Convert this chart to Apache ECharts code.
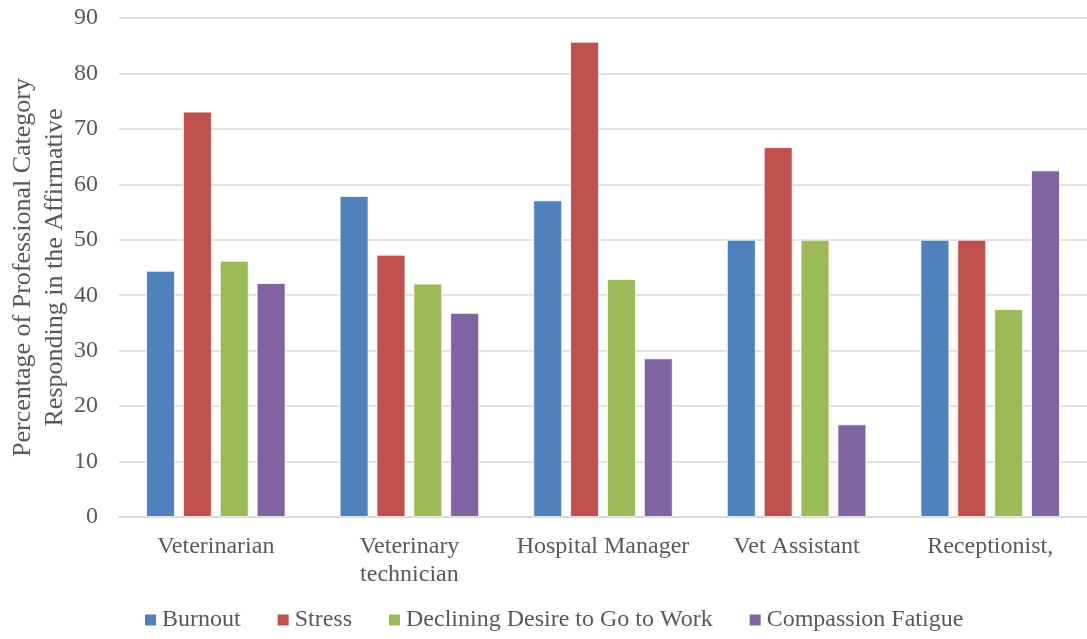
<!DOCTYPE html>
<html>
<head>
<meta charset="utf-8">
<script src="https://cdn.jsdelivr.net/npm/echarts@6/dist/echarts.min.js"></script>
<style>
  html, body { margin: 0; padding: 0; background: #fff; }
  #chart { width: 1087px; height: 639px; }
</style>
</head>
<body>
<div id="chart"></div>
<script>
const categories = ["Veterinarian", "Veterinary\ntechnician", "Hospital Manager", "Vet Assistant", "Receptionist,"];
const burnout = [44.4, 57.9, 57.1, 50, 50];
const stress = [73.1, 47.3, 85.7, 66.7, 50];
const declining = [46.2, 42.1, 42.9, 50, 37.5];
const compassion = [42.2, 36.8, 28.6, 16.7, 62.5];
const yTicks = [0, 10, 20, 30, 40, 50, 60, 70, 80, 90];

document.addEventListener("DOMContentLoaded", function () {
  const myChart = echarts.init(document.getElementById("chart"));
  const font = "'Liberation Serif', 'Times New Roman', serif";
  const bar = function (name, data, color) {
    return {
      name: name,
      type: "bar",
      data: data,
      barGap: "28%",
      barCategoryGap: "28%",
      itemStyle: { color: color, borderColor: "#ffffff", borderWidth: 0.8 },
    };
  };
  const option = {
    animation: false,
    textStyle: { fontFamily: font },
    color: ["#4F81BD", "#C0504D", "#9BBB59", "#8064A2"],
    legend: {
      bottom: 2,
      left: 138,
      itemWidth: 13,
      itemHeight: 13,
      itemGap: 35,
      icon: "rect",
      textStyle: { fontFamily: font, fontSize: 24, color: "#595959" },
      data: ["Burnout", "Stress", "Declining Desire to Go to Work", "Compassion Fatigue"],
    },
    grid: { left: 119, right: 0, top: 18, bottom: 122, outerBoundsMode: "none" },
    xAxis: {
      type: "category",
      data: categories,
      axisLine: { lineStyle: { color: "#d9d9d9", width: 2 } },
      axisTick: { show: false },
      axisLabel: { fontFamily: font, fontSize: 24, color: "#595959", margin: 16, lineHeight: 28, interval: 0 },
    },
    yAxis: {
      type: "value",
      min: yTicks[0],
      max: yTicks[yTicks.length - 1],
      interval: 10,
      name: "Percentage of Professional Category\nResponding in the Affirmative",
      nameLocation: "middle",
      nameGap: 48,
      nameMoveOverlap: false,
      nameTextStyle: { fontFamily: font, fontSize: 26, color: "#595959", lineHeight: 32 },
      axisLine: { show: false },
      axisTick: { show: false },
      axisLabel: { fontFamily: font, fontSize: 24, color: "#595959", margin: 21 },
      splitLine: { lineStyle: { color: "#d9d9d9", width: 1.5 } },
    },
    series: [
      bar("Burnout", burnout, "#4F81BD"),
      bar("Stress", stress, "#C0504D"),
      bar("Declining Desire to Go to Work", declining, "#9BBB59"),
      bar("Compassion Fatigue", compassion, "#8064A2"),
    ],
  };
  myChart.setOption(option);
  window.addEventListener("resize", function () {
    myChart.resize();
  });
});
</script>
</body>
</html>
